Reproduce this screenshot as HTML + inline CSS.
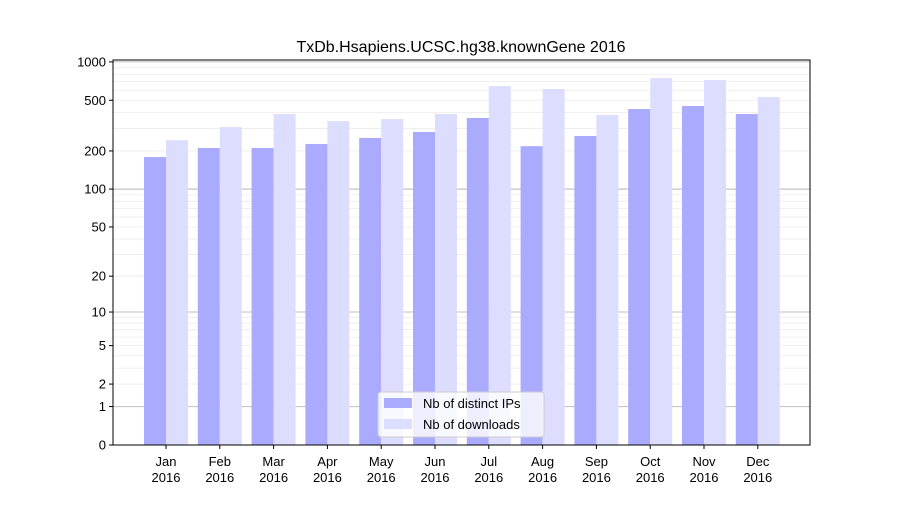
<!DOCTYPE html>
<html><head><meta charset="utf-8"><style>
body{margin:0;background:#fff;font-family:"Liberation Sans",sans-serif}
text{font-family:"Liberation Sans",sans-serif}
</style></head><body>
<svg id="chart" width="900" height="500" xmlns="http://www.w3.org/2000/svg"></svg>
<script>
const months = ["Jan","Feb","Mar","Apr","May","Jun","Jul","Aug","Sep","Oct","Nov","Dec"];
const distinctIPs = [179,211,211,227,253,282,363,218,262,427,451,390];
const downloads = [243,308,390,343,356,390,647,613,383,747,721,530];
const tickValues = [0,1,2,5,10,20,50,100,200,500,1000];
const yearLabel = "2016";

const svg = document.getElementById('chart');
const NS = "http://www.w3.org/2000/svg";
const L=113,R=810,T=60,B=445;
const ymaxLog=Math.log10(1+1035);
function y(v){return B-Math.log10(1+v)/ymaxLog*(B-T);}
const step=(R-L)/12.95;
function xc(i){return 166+i*53.8;}
function mk(tag,attrs,parent){const e=document.createElementNS(NS,tag);for(const k in attrs)e.setAttribute(k,attrs[k]);(parent||svg).appendChild(e);return e;}

// minor grid
const gridG=mk('g',{});


[1,10,100].forEach(d=>{for(let m=1;m<=10;m++){const v=d*m;const major=(m===1||m===10);
 mk('line',{x1:L,x2:R,y1:y(v),y2:y(v),stroke:major?'#c0c0c0':'#ececec','stroke-width':major?1:0.8},gridG);}});

// bars
const w=22;
months.forEach((m,i)=>{
 const b1=mk('rect',{x:xc(i)-w,y:y(distinctIPs[i]),width:w,height:B-y(distinctIPs[i]),fill:'#aaaaff'});
 
 
 const b2=mk('rect',{x:xc(i),y:y(downloads[i]),width:w,height:B-y(downloads[i]),fill:'#ddddff'});
 
 
 mk('line',{x1:xc(i),x2:xc(i),y1:B,y2:B+4,stroke:'#000'});
 const t=mk('text',{x:xc(i),y:466,'font-size':13,'text-anchor':'middle'});
 
 
 t.textContent=m;
 const t2=mk('text',{x:xc(i),y:482,'font-size':13,'text-anchor':'middle'});
 
 
 t2.textContent=yearLabel;
});

// y ticks
tickValues.forEach(v=>{
 mk('line',{x1:L-4,x2:L,y1:y(v),y2:y(v),stroke:'#000'});
 const t=mk('text',{x:L-7,y:y(v)+4.5,'font-size':13,'text-anchor':'end'});
 
 
 t.textContent=v;
});

const frame=mk('rect',{x:L,y:T,width:R-L,height:B-T,fill:'none',stroke:'#000','stroke-width':1});



const title=mk('text',{x:461,y:52,'font-size':16,'text-anchor':'middle'});


title.textContent='TxDb.Hsapiens.UCSC.hg38.knownGene 2016';

// legend
const lg=mk('g',{});


mk('rect',{x:378,y:392,width:166,height:45,fill:'#fff','fill-opacity':0.8,stroke:'#ccc',rx:3},lg);
mk('rect',{x:384,y:398,width:28,height:10,fill:'#aaaaff'},lg);
mk('rect',{x:384,y:419,width:28,height:10,fill:'#ddddff'},lg);
const l1=mk('text',{x:423,y:408,'font-size':13},lg);l1.textContent='Nb of distinct IPs';


const l2=mk('text',{x:423,y:429,'font-size':13},lg);l2.textContent='Nb of downloads';


</script>
</body></html>
